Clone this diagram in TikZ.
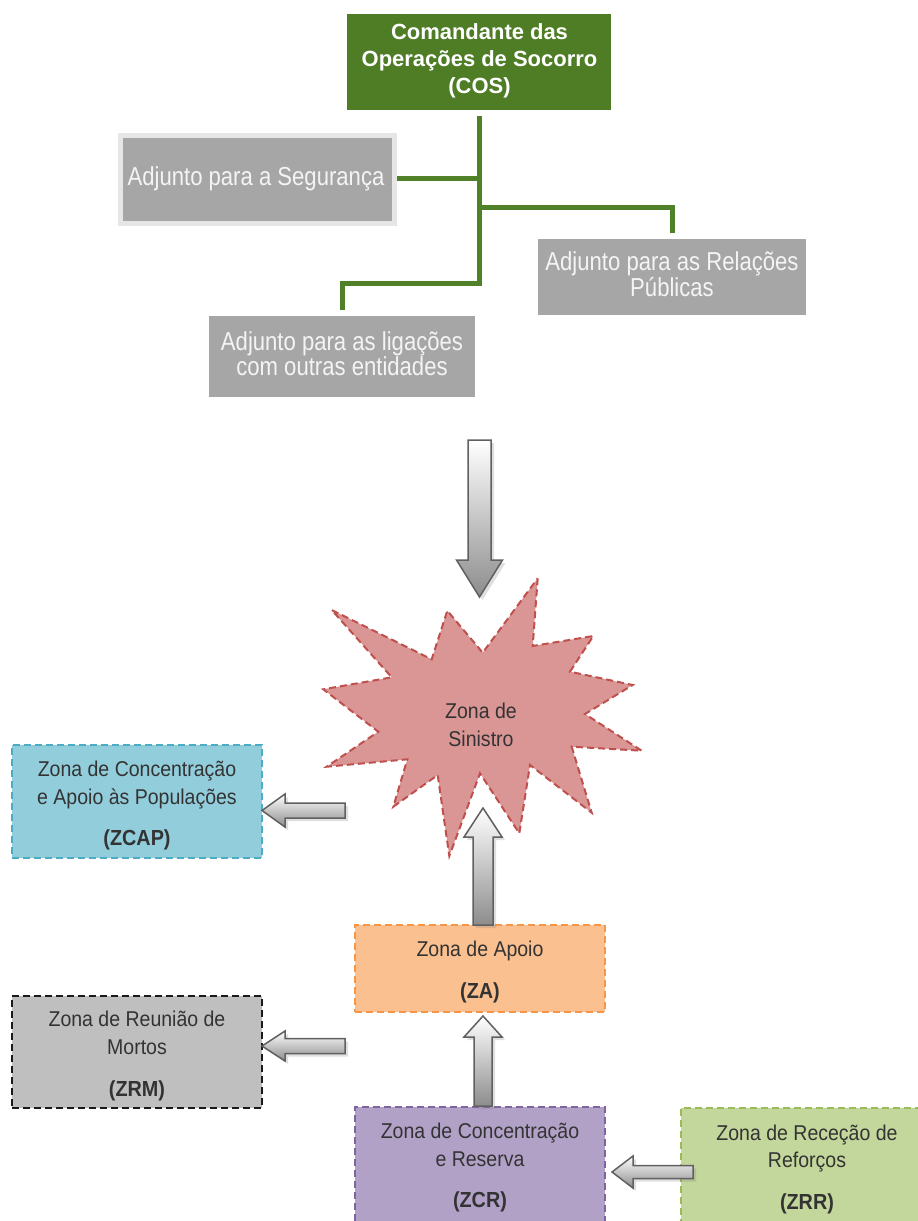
\documentclass[tikz,border=0pt]{standalone}
\usepackage{fontspec}
\setmainfont{Liberation Sans}
\newfontfamily\narrowf{Liberation Sans}[FakeStretch=0.85]
\newfontfamily\zonef{Liberation Sans}[FakeStretch=0.91]
\usetikzlibrary{calc,fit,shadows}
\newlength\pu \setlength\pu{0.02cm}
\definecolor{cosgreen}{RGB}{78,125,38}
\definecolor{connc}{RGB}{80,128,40}
\definecolor{gboxc}{RGB}{166,166,166}
\definecolor{gedge}{RGB}{230,230,230}
\definecolor{gtext}{RGB}{244,244,244}
\definecolor{ztext}{RGB}{51,51,51}
\definecolor{starfill}{RGB}{217,150,148}
\definecolor{stardraw}{RGB}{192,80,77}
\definecolor{zcapfill}{RGB}{146,205,220}
\definecolor{zcapdraw}{RGB}{75,172,198}
\definecolor{zafill}{RGB}{250,192,144}
\definecolor{zadraw}{RGB}{247,150,70}
\definecolor{zrmfill}{RGB}{191,191,191}
\definecolor{zrmdraw}{RGB}{26,26,26}
\definecolor{zcrfill}{RGB}{178,161,199}
\definecolor{zcrdraw}{RGB}{128,100,162}
\definecolor{zrrfill}{RGB}{195,214,155}
\definecolor{zrrdraw}{RGB}{155,187,89}
\definecolor{arrline}{RGB}{96,96,96}
\tikzset{
  box/.style={inner sep=0pt, outer sep=0pt},
  zone/.style={box, line width=2.5\pu, dash pattern=on 7\pu off 4\pu},
  cosline/.style={font=\fontsize{12.5}{15}\selectfont\bfseries, text=white, inner sep=0pt, anchor=base},
  gline/.style={font=\narrowf\fontsize{14.8}{16}\selectfont, text=gtext, inner sep=0pt, anchor=base},
  zline/.style={font=\zonef\fontsize{12.2}{14}\selectfont, text=ztext, inner sep=0pt, anchor=base},
  zcode/.style={font=\zonef\fontsize{12.4}{14}\selectfont\bfseries, text=ztext, inner sep=0pt, anchor=base},
  conn/.style={draw=connc, line width=5\pu},
  blk/.style={draw=arrline, line width=1.5\pu, line join=miter, top color=white, bottom color=black!45,
    drop shadow={shadow xshift=3\pu, shadow yshift=-3\pu, opacity=0.25}},
  stardash/.style={fill=starfill, draw=stardraw, line width=2\pu, dash pattern=on 7\pu off 4\pu},
}
% vertical block arrow: tail, tip, shaft half, head half, head length, dir (+1 up, -1 down)
\newcommand\blkV[6]{%
  \path[blk] let \p1=(#1), \p2=(#2) in
    ({\x2-#3*\pu},\y1) -- ({\x2-#3*\pu},{\y2-(#6)*#5*\pu}) -- ({\x2-#4*\pu},{\y2-(#6)*#5*\pu})
    -- (\p2) -- ({\x2+#4*\pu},{\y2-(#6)*#5*\pu}) -- ({\x2+#3*\pu},{\y2-(#6)*#5*\pu})
    -- ({\x2+#3*\pu},\y1) -- cycle;}
% horizontal block arrow: tail, tip, shaft half, head half, head length, dir (+1 right, -1 left)
\newcommand\blkH[6]{%
  \path[blk] let \p1=(#1), \p2=(#2) in
    (\x1,{\y2+#3*\pu}) -- ({\x2-(#6)*#5*\pu},{\y2+#3*\pu}) -- ({\x2-(#6)*#5*\pu},{\y2+#4*\pu})
    -- (\p2) -- ({\x2-(#6)*#5*\pu},{\y2-#4*\pu}) -- ({\x2-(#6)*#5*\pu},{\y2-#3*\pu})
    -- (\x1,{\y2-#3*\pu}) -- cycle;}
\begin{document}
\begin{tikzpicture}[x=\pu, y=-\pu]
\useasboundingbox (0,0) rectangle (918,1221);

% ---------- command structure ----------
\node[box, fit={(347,14) (611,110)}, fill=cosgreen] (cos) {};
\node[box, fit={(120,135) (394,223)}, fill=gboxc] (seg) {};
\node[box, fit={(538,239) (806,315)}, fill=gboxc] (rel) {};
\node[box, fit={(209,316) (475,397)}, fill=gboxc] (lig) {};

\coordinate (lvlA) at (0,178);
\coordinate (lvlB) at (0,207);
\coordinate (lvlC) at (0,283);
\draw[conn] ([yshift=-6\pu]cos.south) -- (cos.south |- lvlC) -| ([yshift=6\pu]lig.north);
\draw[conn] (cos.south |- lvlA) -- (seg.east |- lvlA);
\draw[conn] (cos.south |- lvlB) -| ([yshift=6\pu]rel.north);
\draw[gedge, line width=5\pu] (seg.north west) rectangle (seg.south east);

\node[cosline] (cos1) at (479.5,39.5) {Comandante das};
\node[cosline] (cos2) at (479.5,66.7) {Operações de Socorro};
\node[cosline] (cos3) at (479.5,93.5) {(COS)};

\node[gline] (seg1) at (256,185) {Adjunto para a Segurança};
\node[gline] (rel1) at (672,270.5) {Adjunto para as Relações};
\node[gline] (rel2) at (672,296.7) {Públicas};
\node[gline] (lig1) at (342,350) {Adjunto para as ligações};
\node[gline] (lig2) at (342,375.5) {com outras entidades};

% ---------- zones ----------
\path[stardash] (537.7,578.3) -- (532.7,646) -- (593.3,636) -- (570,671.7) -- (632.7,685)
  -- (585,714) -- (641.7,750.7) -- (571.7,746.7) -- (591.7,812.7) -- (530,765)
  -- (519.3,833.3) -- (480,773.3) -- (449.3,856) -- (437.7,775) -- (393.3,806.7)
  -- (407.3,759.3) -- (326.7,766.7) -- (378.3,731.7) -- (323.3,689.3) -- (391.7,677.3)
  -- (331.7,610) -- (431.7,659.3) -- (447.3,610.7) -- (482.7,652.7) -- cycle;
\node[zline] (zs1) at (481,718.3) {Zona de};
\node[zline] (zs2) at (481,746) {Sinistro};

\node[zone, fit={(12,745) (262,858)}, fill=zcapfill, draw=zcapdraw] (zcap) {};
\node[zline] (zcap1) at (137,776.7) {Zona de Concentração};
\node[zline] (zcap2) at (137,804) {e Apoio às Populações};
\node[zcode] (zcap3) at (137,845) {(ZCAP)};

\node[zone, fit={(355,925) (605,1012)}, fill=zafill, draw=zadraw] (za) {};
\node[zline] (za1) at (480,956.7) {Zona de Apoio};
\node[zcode] (za2) at (480,998.3) {(ZA)};

\node[zone, fit={(12,996) (262,1108)}, fill=zrmfill, draw=zrmdraw] (zrm) {};
\node[zline] (zrm1) at (137,1026.7) {Zona de Reunião de};
\node[zline] (zrm2) at (137,1054) {Mortos};
\node[zcode] (zrm3) at (137,1096.7) {(ZRM)};

\node[zone, fit={(355,1107) (605,1226)}, fill=zcrfill, draw=zcrdraw] (zcr) {};
\node[zline] (zcr1) at (480,1138) {Zona de Concentração};
\node[zline] (zcr2) at (480,1166) {e Reserva};
\node[zcode] (zcr3) at (480,1207) {(ZCR)};

\node[zone, fit={(681,1108) (933,1230)}, fill=zrrfill, draw=zrrdraw] (zrr) {};
\node[zline] (zrr1) at (807,1140) {Zona de Receção de};
\node[zline] (zrr2) at (807,1167) {Reforços};
\node[zcode] (zrr3) at (807,1209) {(ZRR)};

% ---------- block arrows ----------
\coordinate (dT) at (479.5,440);   \coordinate (dH) at (479.5,597);
\blkV{dT}{dH}{11.5}{23}{37}{-1}
\coordinate (u1T) at (483,925);    \coordinate (u1H) at (483,808);
\blkV{u1T}{u1H}{10}{19}{29}{1}
\coordinate (u2T) at (483,1106);   \coordinate (u2H) at (483,1016);
\blkV{u2T}{u2H}{9}{19}{21}{1}
\coordinate (l1T) at (345,810.5);  \coordinate (l1H) at (262,810.5);
\blkH{l1T}{l1H}{7.5}{16.5}{23}{-1}
\coordinate (l2T) at (345,1046);   \coordinate (l2H) at (262,1046);
\blkH{l2T}{l2H}{7.5}{15}{23}{-1}
\coordinate (l3T) at (693,1172);   \coordinate (l3H) at (612,1172);
\blkH{l3T}{l3H}{6.5}{16}{21}{-1}
\end{tikzpicture}
\end{document}
